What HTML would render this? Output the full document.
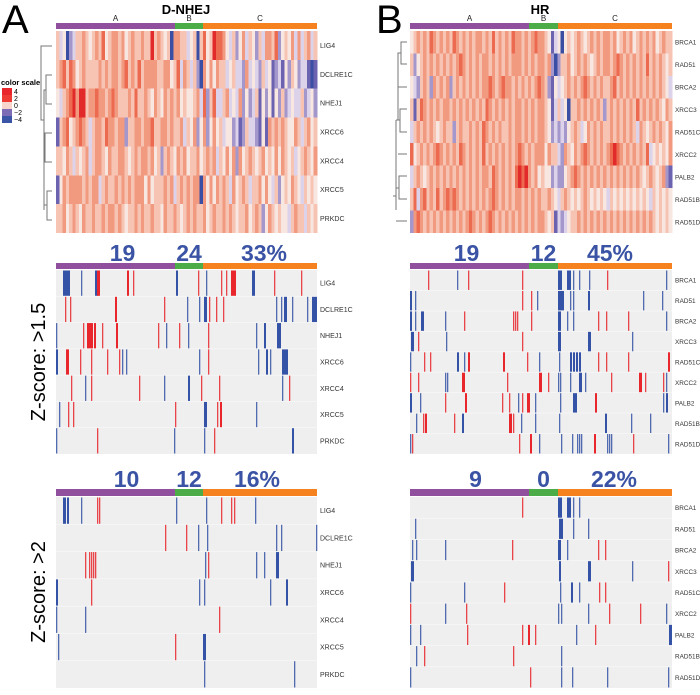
<!DOCTYPE html>
<html><head><meta charset="utf-8">
<style>
html,body{margin:0;padding:0;background:#fff;}
svg{display:block;font-family:"Liberation Sans",Arial,sans-serif;}
</style></head>
<body>
<svg id="fig" width="700" height="695" viewBox="0 0 700 695" xmlns="http://www.w3.org/2000/svg">
<rect width="700" height="695" fill="#fff"/>
<text x="2" y="33" font-size="40">A</text>
<text x="376" y="33" font-size="40">B</text>
<text x="186" y="14" font-size="13" font-weight="bold" text-anchor="middle">D-NHEJ</text>
<text x="540" y="14" font-size="13" font-weight="bold" text-anchor="middle">HR</text>
<g>
<text x="1" y="85" font-size="7.5" font-weight="bold">color scale</text>
<rect x="2" y="88" width="10" height="7" fill="#e8262b"/>
<rect x="2" y="95" width="10" height="7" fill="#ee3b34"/>
<rect x="2" y="102" width="10" height="7" fill="#f7d5cc"/>
<rect x="2" y="109" width="10" height="7" fill="#7b6cb5"/>
<rect x="2" y="116" width="10" height="7" fill="#3a55a5"/>
<text x="14" y="94" font-size="7">4</text>
<text x="14" y="101" font-size="7">2</text>
<text x="14" y="108" font-size="7">0</text>
<text x="14" y="115" font-size="7">−2</text>
<text x="14" y="122" font-size="7">−4</text>
</g>
<text transform="translate(45,362) rotate(-90)" font-size="20" text-anchor="middle">Z-score: &gt;1.5</text>
<text transform="translate(45,592) rotate(-90)" font-size="20" text-anchor="middle">Z-score: &gt;2</text>
<g id="dendro" stroke="#777" stroke-width="1" fill="none">
<path d="M52,46 H41 V120 H44"/>
<path d="M52,75 H46 V104 H52 M46,90 H44 V210 M52,133 H45 V162 H52 M45,148 H44 M52,191 H47 V220 H52 M47,205 H44"/>
<path d="M407,42 H401 V64 H407 M401,53 H398 V120 H396 M407,87 H398 M407,109 H400 V132 H407 M400,120 H398 M407,154 H398 M396,120 V196 H393 M407,176 H399 V199 H407 M399,188 H396 V210 M407,221 H396"/>
</g>
<g id="content"></g>
</svg>
<script>
// ---- data ----
var leftGenes = ["LIG4","DCLRE1C","NHEJ1","XRCC6","XRCC4","XRCC5","PRKDC"];
var rightGenes = ["BRCA1","RAD51","BRCA2","XRCC3","RAD51C","XRCC2","PALB2","RAD51B","RAD51D"];
var groupNames = ["A","B","C"];
var leftGroupBounds = [0,119,147,261];
var rightGroupBounds = [0,119,148,262];
var leftPctMid = ["19","24","33%"];
var rightPctMid = ["19","12","45%"];
var leftPctBot = ["10","12","16%"];
var rightPctBot = ["9","0","22%"];
// expression levels 0(-4 blue) .. 4(0) .. 8(+4 red)
var leftExpr = [
"5340235565 4565745665 6456556558 5654506655 3450574587 7643524635 4253665724 5463635635",
"5675764565 5556565665 6756575666 6556645736 5352064646 5534533263 4325341231 4254233101",
"4356786885 6676656765 5565755654 6546565645 4456372573 3563436242 3514241425 2343352342",
"1567456765 3566576656 6255665667 5566565563 5462462464 5344231253 3214165656 5446535645",
"5546535456 3566546556 6545656656 4525654656 4556456563 5464626456 5456454646 5453456546",
"1465666656 5663565565 6565666464 5556563565 6566064646 5653645653 5564643524 5465435454",
"5564565465 5655656656 5455656556 5546556545 6565564565 5656545564 5652465454 4356553545"];
var rightExpr = [
"4565657656 5657656565 6656575656 5766565676 6541340454 5654565656 6564565645 6565645655",
"5245656565 6565676565 6566565656 5666565656 6562025564 5656545656 6567656565 6575656545",
"4325652656 5625656565 6566765676 6565656567 6521434565 6567656565 5675656565 6565656543",
"5157656565 6656565656 5657656565 6566565656 6541353405 5656565652 5656565657 5656565465",
"3565656545 6552565565 6576565655 6566565656 6542323245 6534656565 5656565653 6545656546",
"7456565676 5656576565 6575656565 6567656566 6465532654 6567656565 6787656565 6573454546",
"3565456565 6565656565 6566576565 6578786564 5442322456 7656565656 5656565656 5456545621",
"5736756575 6767656565 6565676565 6566565656 5565435654 5456545454 3545454545 4543545454",
"2676565656 5656565676 5656765656 5656565656 6545132345 5656565656 5656565656 5656545454"];
// binary marks: [row, start, width, type]
var leftMid = [
[0,7,7,"b"],[0,25,1,"b"],[0,39,3,"b"],[0,41,3,"r"],[0,71,2,"r"],[0,77,1,"r"],[0,120,2,"b"],[0,142,1,"r"],[0,150,1,"b"],[0,165,1,"r"],[0,170,1,"r"],[0,175,5,"r"],[0,196,3,"b"],[0,218,1,"r"],[0,245,1,"r"],
[1,9,1,"r"],[1,14,1,"r"],[1,59,2,"r"],[1,108,1,"r"],[1,131,1,"b"],[1,143,1,"b"],[1,148,3,"b"],[1,153,1,"r"],[1,160,1,"r"],[1,167,1,"r"],[1,220,1,"b"],[1,225,1,"b"],[1,228,3,"b"],[1,236,1,"b"],[1,251,1,"b"],[1,256,5,"b"],
[2,0,1,"b"],[2,27,1,"r"],[2,31,6,"r"],[2,38,2,"r"],[2,46,1,"r"],[2,60,2,"r"],[2,102,1,"r"],[2,110,1,"b"],[2,123,1,"r"],[2,132,1,"b"],[2,152,1,"r"],[2,200,1,"b"],[2,208,2,"b"],[2,221,4,"b"],
[3,0,2,"b"],[3,10,3,"r"],[3,24,1,"r"],[3,35,1,"r"],[3,51,1,"r"],[3,63,1,"r"],[3,66,1,"b"],[3,70,1,"b"],[3,143,1,"b"],[3,152,1,"r"],[3,202,1,"b"],[3,210,2,"b"],[3,214,1,"b"],[3,226,6,"b"],
[4,15,1,"r"],[4,29,1,"b"],[4,35,1,"r"],[4,83,1,"r"],[4,108,1,"b"],[4,132,2,"b"],[4,145,1,"r"],[4,163,1,"r"],[4,226,1,"b"],[4,233,1,"r"],
[5,3,1,"b"],[5,12,1,"r"],[5,17,1,"r"],[5,119,1,"r"],[5,148,3,"b"],[5,161,1,"r"],[5,164,2,"r"],[5,200,1,"b"],
[6,0,1,"b"],[6,41,1,"r"],[6,118,1,"b"],[6,148,1,"b"],[6,158,1,"r"],[6,236,2,"b"]];
var leftBot = [
[0,7,3,"b"],[0,11,2,"b"],[0,25,1,"b"],[0,41,1,"r"],[0,43,1,"r"],[0,120,1,"b"],[0,150,1,"b"],[0,165,1,"r"],[0,175,1,"r"],[0,178,1,"r"],[0,199,1,"b"],
[1,109,1,"r"],[1,130,1,"r"],[1,142,1,"b"],[1,151,1,"b"],[1,220,1,"b"],[1,225,1,"b"],[1,260,1,"b"],
[2,29,1,"r"],[2,33,1,"r"],[2,35,1,"r"],[2,37,1,"r"],[2,39,1,"r"],[2,149,1,"b"],[2,152,1,"r"],[2,200,1,"b"],[2,208,1,"b"],[2,220,3,"b"],
[3,0,2,"b"],[3,35,1,"r"],[3,143,1,"b"],[3,148,1,"b"],[3,214,1,"b"],[3,230,2,"b"],
[4,0,1,"b"],[4,29,1,"b"],[4,163,1,"r"],
[5,2,1,"b"],[5,119,1,"r"],[5,147,3,"b"],
[6,148,1,"b"],[6,238,1,"b"]];
var rightMid = [
[0,18,1,"r"],[0,47,1,"b"],[0,58,1,"r"],[0,112,1,"r"],[0,148,4,"b"],[0,157,4,"b"],[0,163,1,"b"],[0,169,1,"b"],[0,179,1,"b"],[0,197,1,"r"],[0,256,1,"b"],
[1,0,2,"b"],[1,5,1,"b"],[1,112,1,"r"],[1,121,1,"r"],[1,127,1,"b"],[1,148,6,"b"],[1,160,1,"b"],[1,163,1,"b"],[1,178,2,"b"],[1,233,1,"b"],[1,252,1,"b"],
[2,0,2,"b"],[2,5,1,"b"],[2,11,3,"b"],[2,35,1,"b"],[2,54,1,"r"],[2,103,1,"r"],[2,105,1,"r"],[2,107,1,"r"],[2,121,1,"r"],[2,148,3,"b"],[2,157,1,"b"],[2,163,1,"b"],[2,188,1,"r"],[2,196,1,"r"],[2,218,1,"r"],[2,256,1,"b"],
[3,1,3,"b"],[3,8,1,"r"],[3,36,1,"b"],[3,112,1,"r"],[3,148,3,"b"],[3,178,3,"b"],[3,222,1,"b"],
[4,0,1,"b"],[4,14,1,"r"],[4,20,1,"r"],[4,47,2,"b"],[4,54,1,"b"],[4,58,2,"r"],[4,93,2,"r"],[4,117,1,"r"],[4,129,1,"b"],[4,149,1,"b"],[4,160,2,"b"],[4,163,2,"b"],[4,166,2,"b"],[4,169,2,"b"],[4,188,1,"r"],[4,196,1,"r"],[4,218,1,"r"],[4,258,2,"r"],
[5,0,1,"r"],[5,8,1,"r"],[5,35,1,"b"],[5,37,1,"b"],[5,52,3,"r"],[5,97,1,"r"],[5,129,3,"r"],[5,138,1,"r"],[5,148,1,"b"],[5,150,1,"b"],[5,160,1,"b"],[5,169,3,"b"],[5,175,1,"b"],[5,201,1,"r"],[5,229,3,"r"],[5,235,1,"r"],[5,253,1,"r"],[5,256,1,"b"],
[6,0,2,"b"],[6,10,1,"b"],[6,35,1,"r"],[6,55,2,"r"],[6,92,1,"r"],[6,99,1,"r"],[6,108,1,"b"],[6,112,1,"r"],[6,117,3,"r"],[6,125,1,"b"],[6,150,1,"b"],[6,163,4,"b"],[6,185,2,"r"],[6,253,1,"b"],[6,256,2,"b"],
[7,6,1,"b"],[7,13,1,"r"],[7,15,2,"r"],[7,44,1,"r"],[7,52,2,"b"],[7,99,3,"r"],[7,103,1,"r"],[7,111,1,"b"],[7,125,1,"b"],[7,149,1,"b"],[7,195,2,"b"],[7,221,1,"b"],[7,240,1,"b"],
[8,0,1,"b"],[8,2,1,"r"],[8,109,1,"r"],[8,120,2,"r"],[8,129,1,"b"],[8,151,1,"b"],[8,162,1,"b"],[8,167,1,"b"],[8,169,1,"b"],[8,171,1,"b"],[8,184,2,"r"],[8,197,1,"b"],[8,199,1,"b"],[8,201,1,"b"],[8,223,1,"r"],[8,258,1,"b"]];
var rightBot = [
[0,112,1,"r"],[0,148,4,"b"],[0,157,4,"b"],[0,163,1,"b"],[0,169,1,"b"],
[1,5,1,"b"],[1,149,4,"b"],[1,163,1,"b"],[1,178,1,"b"],
[2,2,1,"b"],[2,6,1,"b"],[2,35,1,"b"],[2,102,1,"r"],[2,148,3,"b"],[2,157,1,"b"],[2,188,1,"r"],[2,195,1,"r"],
[3,1,3,"b"],[3,149,2,"b"],[3,178,3,"b"],[3,222,1,"b"],[3,258,1,"r"],
[4,0,1,"b"],[4,54,1,"b"],[4,94,1,"r"],[4,150,1,"b"],[4,161,2,"b"],[4,169,1,"b"],[4,189,1,"r"],[4,195,1,"r"],
[5,0,1,"r"],[5,35,1,"b"],[5,56,1,"r"],[5,148,1,"b"],[5,151,1,"b"],[5,178,1,"b"],[5,199,1,"r"],[5,230,1,"r"],[5,256,1,"b"],
[6,0,1,"b"],[6,10,1,"b"],[6,57,1,"r"],[6,112,1,"r"],[6,118,2,"r"],[6,125,1,"r"],[6,166,1,"b"],[6,185,1,"r"],[6,259,3,"b"],
[7,6,1,"b"],[7,14,1,"r"],[7,103,1,"r"],[7,151,1,"b"],
[8,0,1,"b"],[8,120,1,"r"],[8,151,1,"b"],[8,162,1,"b"],[8,197,1,"b"],[8,258,1,"b"]];

// ---- drawing ----
var NS = "http://www.w3.org/2000/svg";
var content = document.getElementById("content");
var levelColors = ["#3a4fa3","#6b63b0","#a397cc","#dcd2ea","#f8e6e1","#f7c4b3","#f29a80","#ec6a4f","#e32a2a"];
var groupColors = ["#91509e","#4cad48","#f5821f"];
function mk(tag, attrs, parent){
  var e = document.createElementNS(NS, tag);
  for (var k in attrs) e.setAttribute(k, attrs[k]);
  (parent || content).appendChild(e);
  return e;
}
function xScale(x0, W, total, v){ return x0 + v * W / total; }

function drawBar(x0, W, total, bounds, y, h, label){
  var g = mk("g", {});
  
  
  for (var i = 0; i < 3; i++){
    var a = xScale(x0, W, total, bounds[i]), b = xScale(x0, W, total, bounds[i+1]);
    var r = mk("rect", {x:a, y:y, width:b-a, height:h, fill:groupColors[i]}, g);
    
    
  }
}
function drawGroupLetters(x0, W, total, bounds, y){
  for (var i = 0; i < 3; i++){
    var c = (xScale(x0, W, total, bounds[i]) + xScale(x0, W, total, bounds[i+1])) / 2;
    var t = mk("text", {x:c, y:y, "font-size":8, "text-anchor":"middle", fill:"#222"});
    t.textContent = groupNames[i];
    
    
  }
}
function drawPct(x0, W, total, bounds, vals, y, offsets){
  for (var i = 0; i < 3; i++){
    var c = (xScale(x0, W, total, bounds[i]) + xScale(x0, W, total, bounds[i+1])) / 2 + offsets[i];
    var t = mk("text", {x:c, y:y, "font-size":23, "font-weight":"bold", "text-anchor":"middle", fill:"#3a53a4"});
    t.textContent = vals[i];
    
    
  }
}
function drawGenes(genes, x, y0, H, fs){
  var rh = H / genes.length;
  genes.forEach(function(gname, i){
    var t = mk("text", {x:x, y:y0 + rh*(i+0.5) + 2.5, "font-size":fs, fill:"#333"});
    t.textContent = gname;
    
    
  });
}
function drawExpr(rows, x0, W, y0, H, label){
  var g = mk("g", {"shape-rendering":"crispEdges"});
  
  
  var rh = H / rows.length;
  rows.forEach(function(s, r){
    var vals = s.replace(/\s+/g, "");
    var n = vals.length, cw = W / n;
    for (var c = 0; c < n; c++){
      var rect = mk("rect", {x:x0 + c*cw, y:y0 + r*rh, width:cw + 0.4, height:rh, fill:levelColors[+vals[c]]}, g);
      
      
    }
  });
}
function drawBinary(marks, nRows, x0, W, total, y0, H, label){
  var g = mk("g", {});
  
  
  var bg = mk("rect", {x:x0, y:y0, width:W, height:H, fill:"#efefef"}, g);
  
  
  var rh = H / nRows;
  marks.forEach(function(m){
    var x = xScale(x0, W, total, m[1]);
    var w = Math.max(1.3, m[2] * W / total);
    var col = m[3] === "b" ? "#3553a6" : "#e8262b";
    var rect = mk("rect", {x:x, y:y0 + m[0]*rh + 0.5, width:w, height:rh - 1, fill:col, opacity: m[2] === 1 ? 0.85 : 1}, g);
    
    
  });
  for (var i = 1; i < nRows; i++){
    var ln = mk("line", {x1:x0, x2:x0+W, y1:y0+i*rh, y2:y0+i*rh, stroke:"#fff", "stroke-width":0.6, opacity:0.6}, g);
    
    
  }
}

var LX = 56, LW = 261, LT = 261;
var RX = 410, RW = 262, RT = 262;

drawGroupLetters(LX, LW, LT, leftGroupBounds, 21);
drawBar(LX, LW, LT, leftGroupBounds, 23, 6, 'top-left');
drawExpr(leftExpr, LX, LW, 31, 202, 'd-nhej-expression-heatmap');
drawGenes(leftGenes, 320, 31, 202, 7);

drawGroupLetters(RX, RW, RT, rightGroupBounds, 21);
drawBar(RX, RW, RT, rightGroupBounds, 23, 6, 'top-right');
drawExpr(rightExpr, RX, RW, 31, 202, 'hr-expression-heatmap');
drawGenes(rightGenes, 675, 31, 202, 6.4);

drawPct(LX, LW, LT, leftGroupBounds, leftPctMid, 261, [7,0,4]);
drawBar(LX, LW, LT, leftGroupBounds, 263, 6, 'mid-left');
drawBinary(leftMid, 7, LX, LW, LT, 270, 184, 'd-nhej-z15-heatmap');
drawGenes(leftGenes, 320, 270, 184, 7);

drawPct(RX, RW, RT, rightGroupBounds, rightPctMid, 261, [-3,0,-5]);
drawBar(RX, RW, RT, rightGroupBounds, 263, 6, 'mid-right');
drawBinary(rightMid, 9, RX, RW, RT, 270, 184, 'hr-z15-heatmap');
drawGenes(rightGenes, 675, 270, 184, 6.4);

drawPct(LX, LW, LT, leftGroupBounds, leftPctBot, 487, [11,0,-3]);
drawBar(LX, LW, LT, leftGroupBounds, 489, 7, 'bottom-left');
drawBinary(leftBot, 7, LX, LW, LT, 497, 191, 'd-nhej-z2-heatmap');
drawGenes(leftGenes, 320, 497, 191, 7);

drawPct(RX, RW, RT, rightGroupBounds, rightPctBot, 487, [6,0,-1]);
drawBar(RX, RW, RT, rightGroupBounds, 489, 7, 'bottom-right');
drawBinary(rightBot, 9, RX, RW, RT, 497, 191, 'hr-z2-heatmap');
drawGenes(rightGenes, 675, 497, 191, 6.4);
</script>
</body></html>
